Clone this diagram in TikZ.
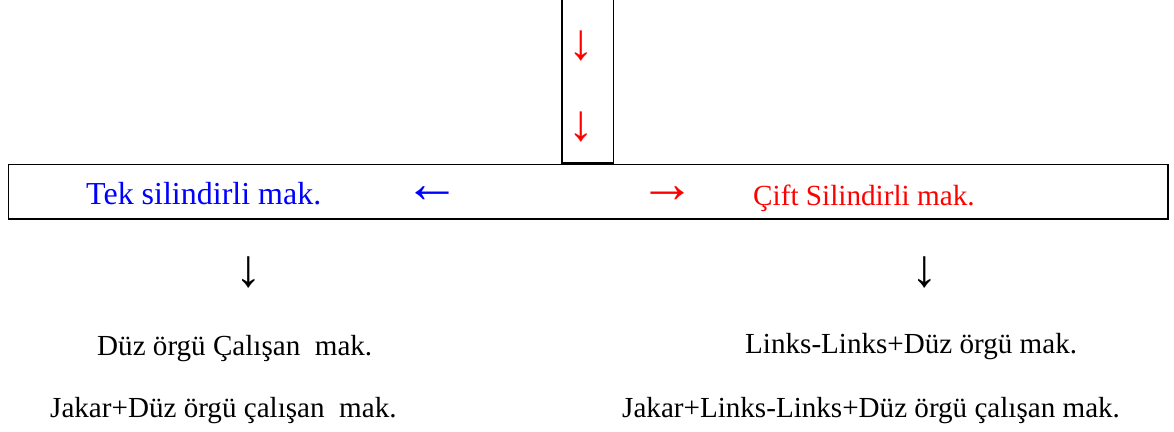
\documentclass[tikz,border=0pt]{standalone}
\usepackage{fontspec}
\setmainfont{Liberation Serif}
\definecolor{pblue}{RGB}{0,0,255}
\definecolor{pred}{RGB}{255,0,0}
\tikzset{
  frame/.style={line width=1.6pt, draw=black},
  lbl/.style={inner sep=0pt, anchor=base west},
  arr/.style={inner sep=0pt, anchor=center},
  vsize/.style={font=\fontsize{51}{56}\selectfont},
  hsize/.style={font=\fontsize{56}{60}\selectfont},
  bsize/.style={font=\fontsize{53}{58}\selectfont},
  big/.style={font=\fontsize{32}{38}\selectfont},
  mid/.style={font=\fontsize{29.2}{35}\selectfont},
  small/.style={font=\fontsize{29.1}{35}\selectfont}
}
\begin{document}
\begin{tikzpicture}[x=1pt,y=-1pt]
\useasboundingbox (0,0) rectangle (1174,431);
% boxes
\coordinate (vtl) at (561.7,-3);
\coordinate (vtr) at (613.3,-3);
\coordinate (vbl) at (561.7,162.7);
\coordinate (vbr) at (613.3,162.7);
\draw[frame] (vtl) -- (vbl) -- (vbr) -- (vtr);
\node[frame, minimum width=1159.5pt, minimum height=54.8pt, inner sep=0pt, anchor=north west] (hbox) at (7.5,163.5) {};
% red arrows in the vertical box
\node[arr, vsize, text=pred] (d1) at (581,46) {↓};
\node[arr, vsize, text=pred] (d2) at (581,126.5) {↓};
% arrows in the horizontal box
\node[arr, hsize, text=pblue] (la) at (432.5,195) {←};
\node[arr, hsize, text=pred] (ra) at (667,195) {→};
% labels in the horizontal box
\node[lbl, big, text=pblue] (tek) at (86,204.3) {Tek silindirli mak.};
\node[lbl, mid, text=pred] (cift) at (753,205) {Çift Silindirli mak.};
% down arrows
\node[arr, bsize] (ld) at (249,272.5) {↓};
\node[arr, bsize] (rd) at (924.3,272.5) {↓};
% bottom labels
\node[lbl, small] (l1) at (97,355) {Düz örgü Çalışan\ \ mak.};
\node[lbl, small] (l2) at (50,417) {Jakar+Düz örgü çalışan\ \ mak.};
\node[lbl, small] (r1) at (745,353.5) {Links-Links+Düz örgü mak.};
\node[lbl, small] (r2) at (622,417.5) {Jakar+Links-Links+Düz örgü çalışan mak.};
\end{tikzpicture}
\end{document}
